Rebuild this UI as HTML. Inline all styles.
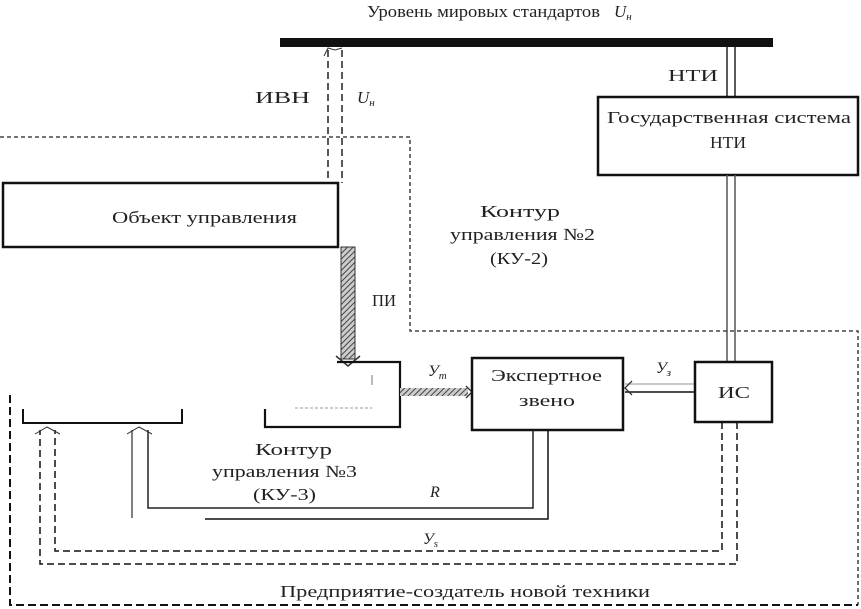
<!DOCTYPE html>
<html><head><meta charset="utf-8"><style>
html,body{margin:0;padding:0;background:#fff;}
svg{display:block;}
text{font-family:"Liberation Serif",serif;fill:#222;}
</style></head><body>
<svg width="861" height="609" viewBox="0 0 861 609" xmlns="http://www.w3.org/2000/svg">
<defs>
<pattern id="h" width="4" height="4" patternUnits="userSpaceOnUse" patternTransform="rotate(45)"><rect width="4" height="4" fill="#ccc"/><line x1="0" y1="0" x2="0" y2="4" stroke="#444" stroke-width="2"/></pattern>
</defs>
<text x="367" y="17" font-size="17" textLength="233" lengthAdjust="spacingAndGlyphs">Уровень мировых стандартов</text>
<text x="614" y="17" font-size="17" font-style="italic">U<tspan font-size="11" dy="3">н</tspan></text>
<rect x="280" y="38" width="493" height="9" fill="#111"/>
<line x1="727" y1="47" x2="727" y2="97" stroke="#222" stroke-width="1.5"/>
<line x1="735" y1="47" x2="735" y2="97" stroke="#222" stroke-width="1.5"/>
<text x="668" y="81" font-size="17" textLength="50" lengthAdjust="spacingAndGlyphs">НТИ</text>
<rect x="598" y="97" width="260" height="78" fill="#fff" stroke="#111" stroke-width="2.5"/>
<text x="607" y="123" font-size="17" textLength="244" lengthAdjust="spacingAndGlyphs">Государственная система</text>
<text x="710" y="148" font-size="17" textLength="36" lengthAdjust="spacingAndGlyphs">НТИ</text>
<line x1="727" y1="175" x2="727" y2="362" stroke="#555" stroke-width="1.5"/>
<line x1="735" y1="175" x2="735" y2="362" stroke="#555" stroke-width="1.5"/>
<line x1="328" y1="50" x2="328" y2="183" stroke="#222" stroke-width="1.5" stroke-dasharray="7,4"/>
<line x1="342" y1="50" x2="342" y2="183" stroke="#222" stroke-width="1.5" stroke-dasharray="7,4"/>
<path d="M324,56 L328,48 L335,50 L342,48" fill="none" stroke="#333" stroke-width="1"/>
<text x="255" y="103" font-size="17" textLength="55" lengthAdjust="spacingAndGlyphs">ИВН</text>
<text x="357" y="103" font-size="17" font-style="italic">U<tspan font-size="11" dy="3">н</tspan></text>
<path d="M0,137 H410 V331 H858 V605" fill="none" stroke="#222" stroke-width="1.3" stroke-dasharray="4,3"/>
<path d="M10,395 V605 H858" fill="none" stroke="#111" stroke-width="2" stroke-dasharray="8,4"/>
<rect x="3" y="183" width="335" height="64" fill="#fff" stroke="#111" stroke-width="2.5"/>
<text x="112" y="223" font-size="17" textLength="185" lengthAdjust="spacingAndGlyphs">Объект управления</text>
<rect x="341" y="247" width="14" height="112" fill="url(#h)" stroke="#333" stroke-width="1"/>
<path d="M336,356 L348,366 L360,356" fill="none" stroke="#333" stroke-width="1.5"/>
<text x="372" y="306" font-size="17" textLength="24" lengthAdjust="spacingAndGlyphs">ПИ</text>
<text x="480" y="217" font-size="17" textLength="80" lengthAdjust="spacingAndGlyphs">Контур</text>
<text x="450" y="240" font-size="17" textLength="145" lengthAdjust="spacingAndGlyphs">управления №2</text>
<text x="490" y="264" font-size="17" textLength="58" lengthAdjust="spacingAndGlyphs">(КУ-2)</text>
<path d="M337,362 H400 V427 H265 V409" fill="none" stroke="#111" stroke-width="2.2"/>
<line x1="372" y1="375" x2="372" y2="385" stroke="#777"/>
<line x1="295" y1="408" x2="372" y2="408" stroke="#999" stroke-dasharray="3,2"/>
<rect x="400" y="388" width="68" height="8" fill="url(#h)"/>
<path d="M466,386 L472,392 L466,398" fill="none" stroke="#333" stroke-width="1.3"/>
<text x="428" y="376" font-size="16" font-style="italic">У<tspan font-size="11" dy="3">т</tspan></text>
<rect x="472" y="358" width="151" height="72" fill="#fff" stroke="#111" stroke-width="2.5"/>
<text x="491" y="381" font-size="17" textLength="111" lengthAdjust="spacingAndGlyphs">Экспертное</text>
<text x="519" y="406" font-size="17" textLength="56" lengthAdjust="spacingAndGlyphs">звено</text>
<line x1="625" y1="384" x2="695" y2="384" stroke="#aaa" stroke-width="1.3"/>
<line x1="625" y1="392" x2="695" y2="392" stroke="#111" stroke-width="1.5"/>
<path d="M632,381 L625,388 L632,395" fill="none" stroke="#333" stroke-width="1.3"/>
<text x="656" y="373" font-size="16" font-style="italic">У<tspan font-size="11" dy="3">з</tspan></text>
<rect x="695" y="362" width="77" height="60" fill="#fff" stroke="#111" stroke-width="2.5"/>
<text x="718" y="398" font-size="17" textLength="32" lengthAdjust="spacingAndGlyphs">ИС</text>
<path d="M23,409 V423 H182 V409" fill="none" stroke="#111" stroke-width="2"/>
<path d="M533,430 V508 H148 V430" fill="none" stroke="#222" stroke-width="1.5"/>
<path d="M548,430 V519 H205" fill="none" stroke="#111" stroke-width="1.5"/>
<line x1="132" y1="430" x2="132" y2="518" stroke="#555" stroke-width="1.5"/>
<path d="M127,434 L139,427 L152,434" fill="none" stroke="#333" stroke-width="1"/>
<text x="430" y="497" font-size="16" font-style="italic">R</text>
<path d="M722,422 V551 H55 V430" fill="none" stroke="#111" stroke-width="1.5" stroke-dasharray="7,4"/>
<path d="M737,422 V564 H40 V430" fill="none" stroke="#111" stroke-width="1.5" stroke-dasharray="7,4"/>
<path d="M35,434 L47,427 L60,434" fill="none" stroke="#333" stroke-width="1"/>
<text x="423" y="544" font-size="16" font-style="italic">У<tspan font-size="11" dy="3">s</tspan></text>
<text x="255" y="455" font-size="17" textLength="77" lengthAdjust="spacingAndGlyphs">Контур</text>
<text x="212" y="477" font-size="17" textLength="145" lengthAdjust="spacingAndGlyphs">управления №3</text>
<text x="253" y="500" font-size="17" textLength="63" lengthAdjust="spacingAndGlyphs">(КУ-3)</text>
<text x="280" y="597" font-size="17" textLength="370" lengthAdjust="spacingAndGlyphs">Предприятие-создатель новой техники</text>
</svg>
</body></html>
